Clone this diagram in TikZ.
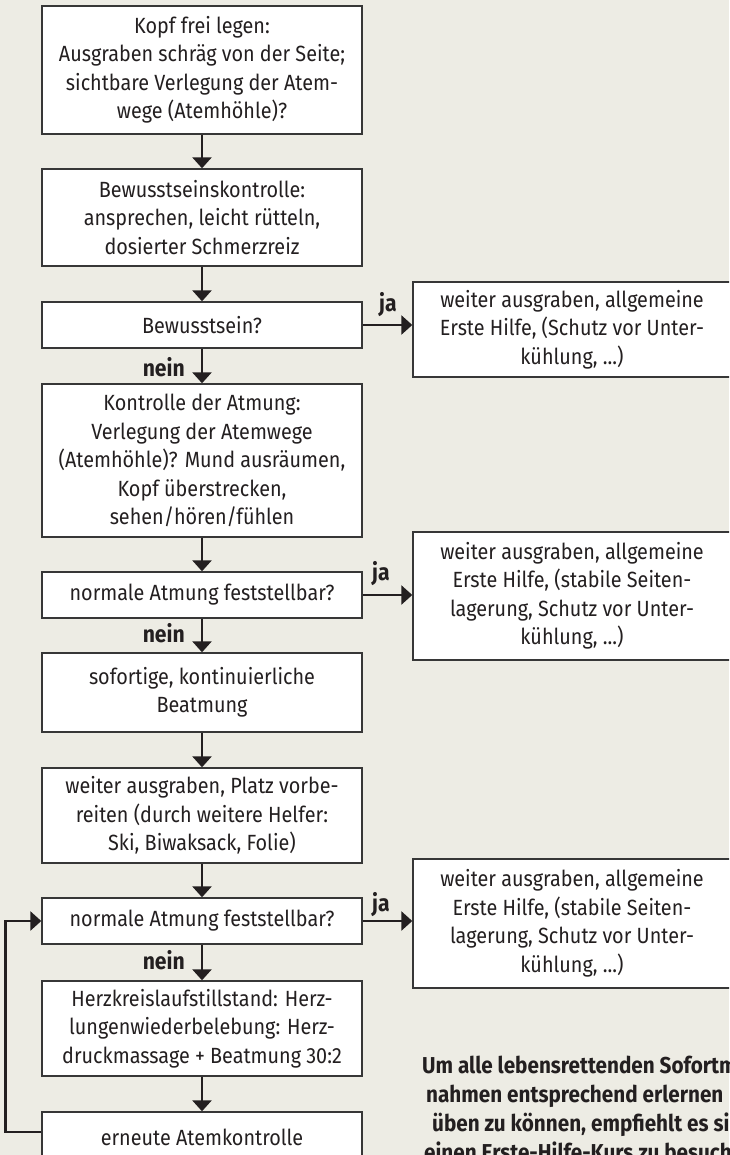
\documentclass[tikz,border=0pt]{standalone}
\usepackage{fontspec}
\setmainfont{Fira Sans}[FakeStretch=0.9]
\usetikzlibrary{arrows.meta}
\definecolor{bg}{RGB}{237,236,228}
\definecolor{ink}{RGB}{35,31,32}
\definecolor{frame}{RGB}{55,55,55}
\newcommand\boxfont{\fontsize{22}{28.5}\selectfont}
\newcommand\labfont{\fontsize{23.5}{28.5}\selectfont\bfseries}
\newcommand\notefont{\fontsize{23}{28.5}\selectfont\bfseries}
\tikzset{
  box/.style={draw=frame, line width=1.4pt, fill=white, align=center,
    minimum width=320pt, inner sep=2pt, font=\boxfont, text=ink},
  rbox/.style={box, minimum width=318pt},
  arr/.style={draw=ink, line width=2.7pt, -{Triangle[width=19pt,length=11pt]}},
  lab/.style={font=\labfont, text=ink, inner sep=0pt},
  note/.style={font=\notefont, text=ink, inner sep=0pt, anchor=base west},
}
\begin{document}
\begin{tikzpicture}[x=1pt,y=-1pt]
\useasboundingbox (0,0) rectangle (729,1155);
\clip (0,0) rectangle (729,1155);
\fill[bg] (0,0) rectangle (729,1155);

\node[box, minimum height=128pt] (A) at (202,70) {Kopf frei legen:\\Ausgraben schräg von der Seite;\\sichtbare Verlegung der Atem-\\wege (Atemhöhle)?};
\node[box, minimum height=97pt] (B) at (202,217.5) {Bewusstseinskontrolle:\\ansprechen, leicht rütteln,\\dosierter Schmerzreiz};
\node[box, minimum height=46pt] (C) at (202,325) {Bewusstsein?};
\node[box, minimum height=153pt] (D) at (202,460.5) {Kontrolle der Atmung:\\Verlegung der Atemwege\\(Atemhöhle)? Mund ausräumen,\\Kopf überstrecken,\\sehen/hören/fühlen};
\node[box, minimum height=46pt] (E) at (202,595) {normale Atmung feststellbar?};
\node[box, minimum height=79pt] (F) at (202,692.5) {sofortige, kontinuierliche\\Beatmung};
\node[box, minimum height=95pt] (G) at (202,815.5) {weiter ausgraben, Platz vorbe-\\reiten (durch weitere Helfer:\\Ski, Biwaksack, Folie)};
\node[box, minimum height=46pt] (H) at (202,921) {normale Atmung feststellbar?};
\node[box, minimum height=95pt] (I) at (202,1028.5) {Herzkreislaufstillstand: Herz-\\lungenwiederbelebung: Herz-\\druckmassage + Beatmung 30:2};
\node[box, minimum height=50pt] (J) at (202,1137) {erneute Atemkontrolle};

\node[rbox, minimum height=95pt] (R1) at (572,329.5) {weiter ausgraben, allgemeine\\Erste Hilfe, (Schutz vor Unter-\\kühlung, ...)};
\node[rbox, minimum height=128pt] (R2) at (572,596) {weiter ausgraben, allgemeine\\Erste Hilfe, (stabile Seiten-\\lagerung, Schutz vor Unter-\\kühlung, ...)};
\node[rbox, minimum height=129pt] (R3) at (572,923.5) {weiter ausgraben, allgemeine\\Erste Hilfe, (stabile Seiten-\\lagerung, Schutz vor Unter-\\kühlung, ...)};

\draw[arr] (A.south) -- (B.north);
\draw[arr] (B.south) -- (C.north);
\draw[arr] (C.south) -- (D.north);
\draw[arr] (D.south) -- (E.north);
\draw[arr] (E.south) -- (F.north);
\draw[arr] (F.south) -- (G.north);
\draw[arr] (G.south) -- (H.north);
\draw[arr] (H.south) -- (I.north);
\draw[arr] (I.south) -- (J.north);

\draw[arr] (C.east) -- (C.east -| R1.west);
\draw[arr] (E.east) -- (E.east -| R2.west);
\draw[arr] (H.east) -- (H.east -| R3.west);
\draw[arr] ([yshift=5pt]J.west) -- ++(-36,0) |- (H.west);

\node[lab, anchor=base west] (ja1) at (379,312) {ja};
\node[lab, anchor=base west] (ja2) at (372,580) {ja};
\node[lab, anchor=base west] (ja3) at (372,911) {ja};
\node[lab, anchor=base east] (n1) at (185,376) {nein};
\node[lab, anchor=base east] (n2) at (185,642) {nein};
\node[lab, anchor=base east] (n3) at (185,969) {nein};

\node[note] (t1) at (422,1073) {Um alle lebensrettenden Sofortm};
\node[note] (t2) at (426,1102) {nahmen entsprechend erlernen};
\node[note] (t3) at (432,1131) {üben zu können, empfiehlt es si};
\node[note] (t4) at (424,1160) {einen Erste-Hilfe-Kurs zu besuch};
\end{tikzpicture}
\end{document}
